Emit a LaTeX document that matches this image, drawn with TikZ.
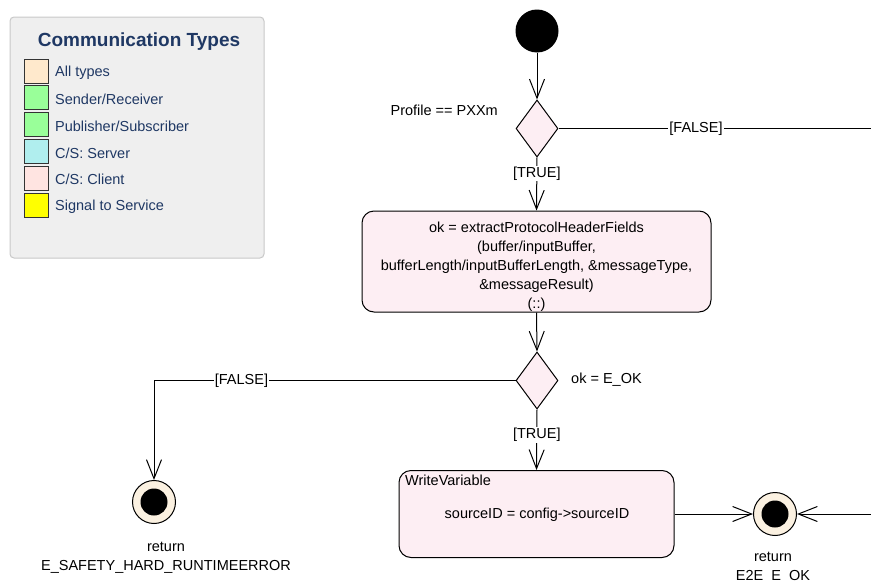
\documentclass[tikz,border=0pt]{standalone}
\usepackage{fontspec}
\setmainfont{Liberation Sans}
\usetikzlibrary{shapes.geometric,arrows.meta}
\definecolor{legbg}{HTML}{EFEFEF}
\definecolor{legborder}{HTML}{C8C8C8}
\definecolor{navy}{HTML}{1F3864}
\definecolor{actfill}{HTML}{FDEEF3}
\definecolor{endfill}{HTML}{FBF1E1}
\definecolor{cAll}{HTML}{FFE9CC}
\definecolor{cSR}{HTML}{99FF99}
\definecolor{cSrv}{HTML}{B0EEEE}
\definecolor{cCli}{HTML}{FFE4E1}
\definecolor{cSig}{HTML}{FFFF00}
\begin{document}
\begin{tikzpicture}[x=1pt,y=-1pt,
  flow/.style={line width=1pt,-{Straight Barb[length=19pt,width=15pt,line width=1pt]}},
  plainline/.style={line width=1pt},
  txt/.style={inner sep=0pt,font=\fontsize{14.5}{19}\selectfont},
  guard/.style={fill=white,inner sep=1pt,font=\fontsize{14.5}{19}\selectfont},
  swatch/.style={draw=black!80,line width=1pt,minimum width=24pt,minimum height=24pt,inner sep=0pt},
  leglabel/.style={anchor=west,inner sep=0pt,yshift=-1.5pt,text=navy,font=\fontsize{14.5}{16}\selectfont},
  decision/.style={diamond,draw,line width=1pt,fill=actfill,minimum width=42pt,minimum height=57pt,inner sep=0pt},
  action/.style={draw,line width=1pt,fill=actfill,rounded corners=12pt,inner sep=0pt},
  initial/.style={circle,fill=black,minimum size=43pt,inner sep=0pt},
  final/.style={circle,draw,line width=1pt,fill=endfill,minimum size=43pt,inner sep=0pt,
    path picture={\fill[black] (path picture bounding box.center) circle (13.5pt);}}
]
\useasboundingbox (0,0) rectangle (871,581);
% legend
\node[draw=legborder,fill=legbg,line width=1pt,rounded corners=4pt,minimum width=254pt,minimum height=241pt,inner sep=0pt] (legend) at (137,137.5) {};
\node[inner sep=0pt,text=navy,font=\fontsize{19}{22}\selectfont\bfseries] (legtitle) at (139,41.5) {Communication Types};
\node[swatch,fill=cAll] (s1) at (36,71) {};
\node[swatch,fill=cSR] (s2) at (36,97.8) {};
\node[swatch,fill=cSR] (s3) at (36,124.6) {};
\node[swatch,fill=cSrv] (s4) at (36,151.4) {};
\node[swatch,fill=cCli] (s5) at (36,178.2) {};
\node[swatch,fill=cSig] (s6) at (36,205) {};
\node[leglabel] (l1) at (55,71) {All types};
\node[leglabel] (l2) at (55,97.8) {Sender/Receiver};
\node[leglabel] (l3) at (55,124.6) {Publisher/Subscriber};
\node[leglabel] (l4) at (55,151.4) {C/S: Server};
\node[leglabel] (l5) at (55,178.2) {C/S: Client};
\node[leglabel] (l6) at (55,205) {Signal to Service};
% flow nodes
\node[initial] (start) at (537,31) {};
\node[decision] (d1) at (537,128.5) {};
\node[txt,anchor=east] (d1lbl) at (498,110) {Profile == PXXm};
\node[action,minimum width=349pt,minimum height=101pt] (extract) at (536.5,261.5) {};
\node[txt,align=center] (extracttext) at (536.5,266.5)
  {ok = extractProtocolHeaderFields\\(buffer/inputBuffer,\\bufferLength/inputBufferLength, \&messageType,\\\&messageResult)\\(::)};
\node[decision] (d2) at (537,380.5) {};
\node[txt,anchor=west] (d2lbl) at (571,380) {ok = E\_OK};
\node[final] (e1) at (154,502) {};
\node[txt,align=center] (e1lbl) at (166,558) {return\\E\_SAFETY\_HARD\_RUNTIMEERROR};
\node[action,minimum width=275pt,minimum height=87pt] (write) at (536.5,514) {};
\node[txt,anchor=west] (writetitle) at (405,480) {WriteVariable};
\node[txt] (writebody) at (537,515) {sourceID = config->sourceID};
\node[final] (e2) at (775,514) {};
\node[txt,align=center] (e2lbl) at (773,567.5) {return\\E2E\_E\_OK};
\coordinate (rightout) at (871,128.5);
\coordinate (rightin) at (871,514);
% connectors
\draw[flow] (start) -- (d1.north);
\draw[flow] (d1.south) -- node[guard,pos=0.3] {[TRUE]} (extract.north);
\draw[plainline] (d1.east) -- node[guard,pos=0.44] {[FALSE]} (rightout);
\draw[flow] (extract.south) -- (d2.north);
\draw[flow] (d2.west) -| node[guard,pos=0.379] {[FALSE]} (e1.north);
\draw[flow] (d2.south) -- node[guard,pos=0.42] {[TRUE]} (write.north);
\draw[flow] (write.east) -- (e2.west);
\draw[flow] (rightin) -- (e2.east);
\end{tikzpicture}
\end{document}
